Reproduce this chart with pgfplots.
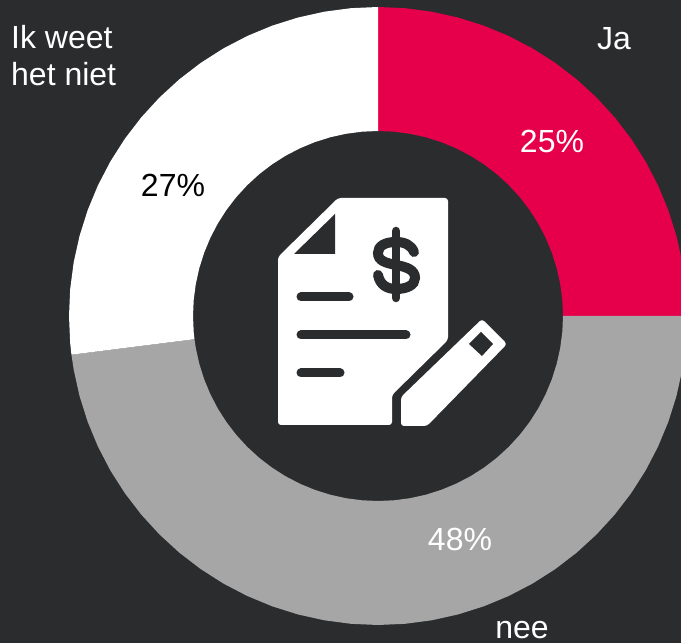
\documentclass[border=0pt]{standalone}
\usepackage{fontspec}
\setmainfont{Liberation Sans}
\usepackage{pgfplots}
\pgfplotsset{compat=1.18}
\definecolor{bg}{HTML}{2A2C2E}
\definecolor{ja}{HTML}{E6004B}
\definecolor{nee}{HTML}{A6A6A6}
\newcommand{\lbl}{\fontsize{32}{38}\selectfont}
\begin{document}
\begin{tikzpicture}[x=1pt,y=1pt]
  \fill[bg] (0,0) rectangle (681,643);
  \begin{axis}[
    at={(0,0)}, anchor=south west,
    scale only axis, width=681pt, height=643pt,
    hide axis,
    xmin=-378, xmax=303, ymin=-327, ymax=316,
  ]
    % wedges as (angle, radius): Ja 25%, nee 48%, weet niet 27%
    \addplot[fill=ja, draw=none, mark=none, data cs=polar] coordinates {
      (90,309) (85,309) (80,309) (75,309) (70,309) (65,309) (60,309) (55,309) (50,309) (45,309)
      (40,309) (35,309) (30,309) (25,309) (20,309) (15,309) (10,309) (5,309) (0,309)
      (0,185) (5,185) (10,185) (15,185) (20,185) (25,185) (30,185) (35,185) (40,185) (45,185)
      (50,185) (55,185) (60,185) (65,185) (70,185) (75,185) (80,185) (85,185) (90,185)
    };
    \addplot[fill=nee, draw=none, mark=none, data cs=polar] coordinates {
      (0,309) (-5,309) (-10,309) (-15,309) (-20,309) (-25,309) (-30,309) (-35,309) (-40,309)
      (-45,309) (-50,309) (-55,309) (-60,309) (-65,309) (-70,309) (-75,309) (-80,309) (-85,309)
      (-90,309) (-95,309) (-100,309) (-105,309) (-110,309) (-115,309) (-120,309) (-125,309)
      (-130,309) (-135,309) (-140,309) (-145,309) (-150,309) (-155,309) (-160,309) (-165,309)
      (-170,309) (-172.8,309)
      (-172.8,185) (-170,185) (-165,185) (-160,185) (-155,185) (-150,185) (-145,185) (-140,185)
      (-135,185) (-130,185) (-125,185) (-120,185) (-115,185) (-110,185) (-105,185) (-100,185)
      (-95,185) (-90,185) (-85,185) (-80,185) (-75,185) (-70,185) (-65,185) (-60,185) (-55,185)
      (-50,185) (-45,185) (-40,185) (-35,185) (-30,185) (-25,185) (-20,185) (-15,185) (-10,185)
      (-5,185) (0,185)
    };
    \addplot[fill=white, draw=none, mark=none, data cs=polar] coordinates {
      (-172.8,309) (-175,309) (-180,309) (-185,309) (-190,309) (-195,309) (-200,309) (-205,309)
      (-210,309) (-215,309) (-220,309) (-225,309) (-230,309) (-235,309) (-240,309) (-245,309)
      (-250,309) (-255,309) (-260,309) (-265,309) (-270,309)
      (-270,185) (-265,185) (-260,185) (-255,185) (-250,185) (-245,185) (-240,185) (-235,185)
      (-230,185) (-225,185) (-220,185) (-215,185) (-210,185) (-205,185) (-200,185) (-195,185)
      (-190,185) (-185,185) (-180,185) (-175,185) (-172.8,185)
    };
  \end{axis}
  % labels and icon in reference pixel coordinates
  \begin{scope}[shift={(0,643)}, y=-1pt]
    \node[anchor=base west, white, inner sep=0pt, font=\lbl] at (11,49) {Ik weet};
    \node[anchor=base west, white, inner sep=0pt, font=\lbl] at (11,86) {het niet};
    \node[anchor=base, white, inner sep=0pt, font=\lbl] at (614,50) {Ja};
    \node[anchor=base, white, inner sep=0pt, text depth=0pt, font=\lbl] at (522,639) {nee};
    \node[anchor=base, white, inner sep=0pt, font=\lbl] at (552,153) {25\%};
    \node[anchor=base, black, inner sep=0pt, font=\lbl] at (173,197) {27\%};
    \node[anchor=base, white, inner sep=0pt, font=\lbl] at (460,551) {48\%};
    % document
    \fill[white, rounded corners=3pt] (338,198) -- (448,198) -- (448,340) -- (392,395) -- (392,425)
      -- (278,425) -- (278,257) -- cycle;
    \fill[bg] (335,214) -- (335,254) -- (294,254) -- cycle;
    \draw[bg, line width=9pt, line cap=round] (301,297) -- (349,297);
    \draw[bg, line width=9pt, line cap=round] (301,335) -- (406,335);
    \draw[bg, line width=9pt, line cap=round] (301,373) -- (340,373);
    % dollar sign
    \draw[bg, line width=8.5pt, line cap=round] (396,231) -- (396,298);
    \draw[bg, line width=10pt, line cap=round] (414,252)
      .. controls (411,245) and (405,242) .. (396,242)
      .. controls (385,242) and (378,246) .. (378,253)
      .. controls (378,261) and (386,263) .. (396,265)
      .. controls (407,267) and (415,270) .. (415,278)
      .. controls (415,285) and (407,289) .. (396,289)
      .. controls (387,289) and (380,285) .. (378,275);
    % pencil
    \fill[white, rounded corners=3pt] (401,397) -- (482,319) -- (507,344) -- (427,426) -- (401,426) -- cycle;
    \fill[bg] (481,332) -- (493,344) -- (482,356) -- (469,344) -- cycle;
  \end{scope}
\end{tikzpicture}
\end{document}
